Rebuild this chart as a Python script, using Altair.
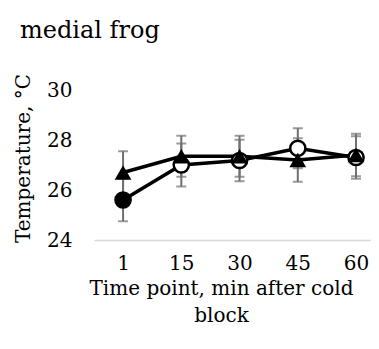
import altair as alt
import pandas as pd

times = ["1", "15", "30", "45", "60"]
circle_mean = [25.6, 27.0, 27.18, 27.67, 27.3]
circle_err = [0.85, 0.86, 0.83, 0.8, 0.85]
tri_mean = [26.7, 27.35, 27.35, 27.2, 27.4]
tri_err = [0.85, 0.82, 0.82, 0.87, 0.85]

rows = []
for i, t in enumerate(times):
    rows.append({"time": t, "series": "circle", "mean": circle_mean[i],
                 "lo": circle_mean[i] - circle_err[i], "hi": circle_mean[i] + circle_err[i]})
    rows.append({"time": t, "series": "triangle", "mean": tri_mean[i],
                 "lo": tri_mean[i] - tri_err[i], "hi": tri_mean[i] + tri_err[i]})
df = pd.DataFrame(rows)

FONT = "DejaVu Serif"
FS = 20

x = alt.X("time:N", sort=times,
          scale=alt.Scale(type="point", padding=0.378, align=0.66),
          axis=alt.Axis(title=["Time point, min after cold", "block"], labelAngle=0,
                        ticks=False, domainColor="#d9d9d9", domainWidth=1.5,
                        labelPadding=13, titlePadding=5, labelFontSize=FS,
                        titleFontSize=FS, titleFontWeight="normal", titleLineHeight=27,
                        titleX=127,
                        labelFont=FONT, titleFont=FONT, labelColor="black", titleColor="black"))
y = alt.Y("mean:Q", scale=alt.Scale(domain=[24, 30], nice=False, zero=False),
          axis=alt.Axis(title="Temperature, °C", values=[24, 26, 28, 30], grid=False,
                        domain=False, ticks=False, labelPadding=22, titlePadding=13,
                        titleY=68,
                        labelFontSize=FS, titleFontSize=FS, titleFontWeight="normal",
                        labelFont=FONT, titleFont=FONT, labelColor="black", titleColor="black"))

base = alt.Chart(df)

err_rule = base.mark_rule(color="#707070", strokeWidth=2).encode(
    x=x, y=alt.Y("lo:Q"), y2="hi:Q", detail="series:N")
cap_lo = base.mark_tick(color="#707070", size=10, thickness=2).encode(
    x=x, y=alt.Y("lo:Q"), detail="series:N")
cap_hi = base.mark_tick(color="#707070", size=10, thickness=2).encode(
    x=x, y=alt.Y("hi:Q"), detail="series:N")

circ = base.transform_filter(alt.datum.series == "circle")
tri = base.transform_filter(alt.datum.series == "triangle")

circ_line = circ.mark_line(color="black", strokeWidth=3.5).encode(x=x, y=y)
tri_line = tri.mark_line(color="black", strokeWidth=3.5).encode(x=x, y=y)
circ_pts = circ.mark_point(shape="circle", size=230, strokeWidth=2.5, stroke="black",
                           opacity=1, filled=False).encode(
    x=x, y=y,
    fill=alt.condition(alt.datum.time == "1", alt.value("black"), alt.value("white")))
tri_pts = tri.mark_point(shape="triangle-up", size=280, filled=True, color="black",
                         opacity=1).encode(x=x, y=y)

chart = alt.layer(err_rule, cap_lo, cap_hi, circ_line, tri_line, circ_pts, tri_pts).properties(
    width=277, height=150,
    autosize=alt.AutoSizeParams(type="none"),
    padding={"left": 86, "top": 82, "right": 0, "bottom": 95},
    title=alt.TitleParams("medial frog", anchor="start", frame="group", dx=-74, offset=30,
                          fontSize=24, font=FONT, fontWeight="normal", color="black"),
).configure_view(stroke=None)

chart.save("out.html", embed_options={"renderer": "svg", "actions": False})
